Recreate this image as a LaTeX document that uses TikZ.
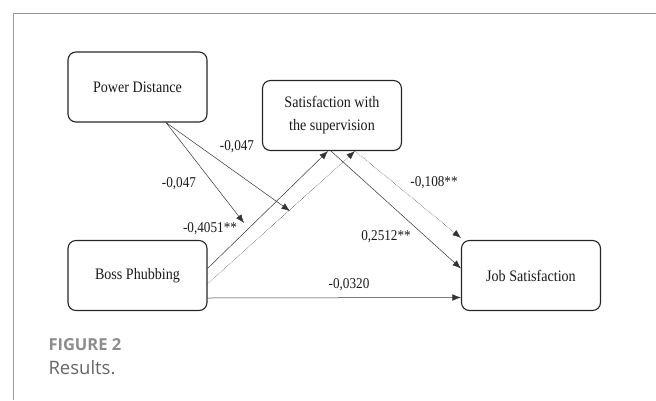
\documentclass[tikz,border=0pt]{standalone}
\usepackage{fontspec}
\setmainfont{Liberation Serif}
\newfontfamily\boxfont{Liberation Serif}[FakeStretch=0.88]
\newfontfamily\capfont{Open Sans}
\usetikzlibrary{positioning, arrows.meta}

\begin{document}
\begin{tikzpicture}[x=1pt,y=-1pt,node distance=2.5cm,on grid,
  var/.style={draw=black!85, rounded corners=8pt, line width=1.1pt, minimum width=139pt,
    minimum height=70pt, inner sep=0pt, align=center, text=black!90,
    font=\boxfont\fontsize{16}{23}\selectfont},
  coef/.style={inner sep=0pt, text=black!90, font=\boxfont\fontsize{15}{18}\selectfont},
  link/.style={-{Latex[length=8.5pt,width=6.5pt]}, line width=0.5pt, draw=black!80}]
  \useasboundingbox (0,0) rectangle (656,400);
  \draw[black!40, line width=0.8pt] (13,400) -- (13,13) -- (656,13);

  \node[var] (pd) at (137.5,87) {Power Distance};
  \node[var] (sat) at (332,115.5) {Satisfaction with\\the supervision};
  \node[var] (bp) [below=188.5pt of pd] {Boss Phubbing};
  \node[var] (js) [right=393.5pt of bp] {Job Satisfaction};

  % moderation
  \coordinate (pdout) at ([xshift=28.5pt]pd.south);
  \coordinate (m1) at (244,223);
  \coordinate (m2) at (290,211);
  \draw[link] (pdout) -- (m1);
  \draw[link] (pdout) -- (m2);

  % paths
  \draw[link] ([yshift=7pt]bp.east) -- ([xshift=-4pt]sat.south);
  \draw[link, densely dotted] ([yshift=-8.5pt]bp.east) -- ([xshift=23pt]sat.south);
  \draw[link] ([xshift=-1pt]sat.south) -- ([yshift=7pt]js.west);
  \draw[link, densely dotted] ([xshift=23pt]sat.south) -- ([yshift=2pt]js.north west);
  \draw[link] ([yshift=-22.5pt]bp.east) -- ([yshift=-22pt]js.west);

  \node[coef] (c1) at (237,147) {-0,047};
  \node[coef] (c2) at (179,184) {-0,047};
  \node[coef] (c3) at (210,229) {-0,4051**};
  \node[coef] (c4) at (386,237) {0,2512**};
  \node[coef] (c5) at (434,183) {-0,108**};
  \node[coef] (c6) at (349,285) {-0,0320};

  \node[anchor=west, text=black!45, font=\capfont\bfseries\fontsize{16.5}{18}\selectfont] (fig) at (45,345) {FIGURE 2};
  \node[anchor=west, text=black!60, font=\capfont\fontsize{18.5}{20}\selectfont] (res) at (45,368) {Results.};
\end{tikzpicture}
\end{document}
